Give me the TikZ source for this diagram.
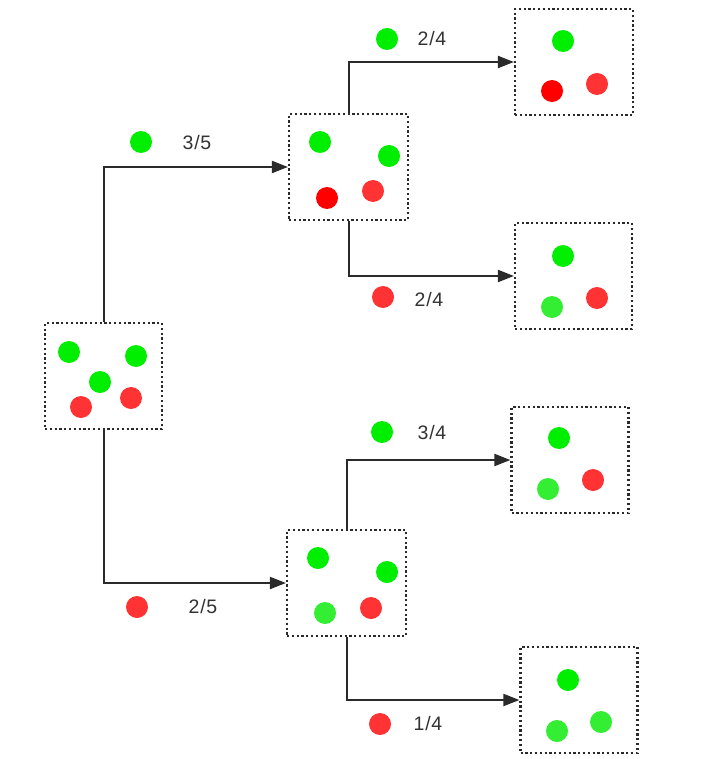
\documentclass[tikz,border=0pt]{standalone}
\usepackage{fontspec}
\setmainfont{Liberation Sans}[LetterSpace=4]
\usetikzlibrary{arrows.meta}
\definecolor{gA}{HTML}{00EE00}
\definecolor{gB}{HTML}{33EE33}
\definecolor{rA}{HTML}{FF3333}
\definecolor{rB}{HTML}{FF0000}
\definecolor{ink}{HTML}{2A2A2A}
\definecolor{txt}{HTML}{333333}
\tikzset{
  bx/.style={draw=ink, line width=2.2pt, dash pattern=on 2.2pt off 2.6pt, minimum width=117pt, minimum height=106pt, inner sep=0pt},
  dot/.style={circle, inner sep=0pt, minimum size=22pt, fill=#1},
  lbl/.style={text=txt, font=\fontsize{19.5}{22}\selectfont, inner sep=0pt},
  arr/.style={draw=ink, line width=2pt, -{Triangle[length=16pt,width=12pt]}}
}
\begin{document}
\begin{tikzpicture}[x=1pt,y=-1pt]
\path[use as bounding box] (0,0) rectangle (715,759);
% boxes
\node[bx] (root) at (103.5,376) {};
\node[bx, minimum width=119pt] (A) at (348.5,167) {};
\node[bx, minimum width=118pt] (AA) at (574,62) {};
\node[bx] (AB) at (573.5,276) {};
\node[bx, minimum width=119pt] (B) at (346.5,583) {};
\node[bx] (BA) at (570,460) {};
\node[bx] (BB) at (579,700) {};
% connectors
\draw[arr] (root.north) |- (A.west);
\draw[arr] (root.south) |- (B.west);
\draw[arr] (A.north) |- (AA.west);
\draw[arr] (A.south) |- (AB.west);
\draw[arr] (B.north) |- (BA.west);
\draw[arr] (B.south) |- (BB.west);
% root dots
\node[dot=gA] (r1) at (69,352) {};
\node[dot=gA] (r2) at (136,356) {};
\node[dot=gA] (r3) at (100,382) {};
\node[dot=rA] (r4) at (81,407) {};
\node[dot=rA] (r5) at (131,398) {};
% A dots
\node[dot=gA] (a1) at (320,142) {};
\node[dot=gA] (a2) at (389,156) {};
\node[dot=rB] (a3) at (327,198) {};
\node[dot=rA] (a4) at (373,191) {};
% AA dots
\node[dot=gA] (aa1) at (563,41) {};
\node[dot=rB] (aa2) at (552,91) {};
\node[dot=rA] (aa3) at (597,84) {};
% AB dots
\node[dot=gA] (ab1) at (563,256) {};
\node[dot=gB] (ab2) at (552,307) {};
\node[dot=rA] (ab3) at (597,298) {};
% B dots
\node[dot=gA] (b1) at (318,558) {};
\node[dot=gA] (b2) at (387,572) {};
\node[dot=gB] (b3) at (325,613) {};
\node[dot=rA] (b4) at (371,608) {};
% BA dots
\node[dot=gA] (ba1) at (559,438) {};
\node[dot=gB] (ba2) at (548,489) {};
\node[dot=rA] (ba3) at (593,480) {};
% BB dots
\node[dot=gA] (bb1) at (568,680) {};
\node[dot=gB] (bb2) at (557,731) {};
\node[dot=gB] (bb3) at (601,722) {};
% labels
\node[dot=gA] (l1d) at (141,142) {};
\node[lbl] (l1) at (197,143) {3/5};
\node[dot=rA] (l2d) at (137,607) {};
\node[lbl] (l2) at (203,607) {2/5};
\node[dot=gA] (l3d) at (387,39) {};
\node[lbl] (l3) at (432,39) {2/4};
\node[dot=rA] (l4d) at (383,297) {};
\node[lbl] (l4) at (429,300) {2/4};
\node[dot=gA] (l5d) at (382,432) {};
\node[lbl] (l5) at (432,433) {3/4};
\node[dot=rA] (l6d) at (380,724) {};
\node[lbl] (l6) at (428,724) {1/4};
\end{tikzpicture}
\end{document}
